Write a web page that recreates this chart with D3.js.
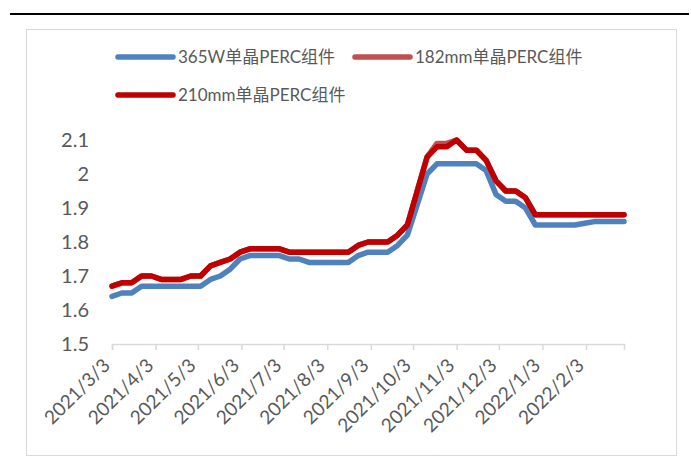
<!DOCTYPE html>
<html>
<head>
<meta charset="utf-8">
<script src="https://cdn.jsdelivr.net/npm/d3@7/dist/d3.min.js"></script>
<style>
  html, body { margin: 0; padding: 0; background: #fff; }
  svg { display: block; }
  text { font-family: Lato, "Noto Sans CJK SC", sans-serif; fill: #595959; }
</style>
</head>
<body>
<svg id="chart" width="691" height="464"></svg>
<script>
// Weekly price dates (Wednesdays)
const dates = [
  "2021-03-03","2021-03-10","2021-03-17","2021-03-24","2021-03-31",
  "2021-04-07","2021-04-14","2021-04-21","2021-04-28","2021-05-05",
  "2021-05-12","2021-05-19","2021-05-26","2021-06-02","2021-06-09",
  "2021-06-16","2021-06-23","2021-06-30","2021-07-07","2021-07-14",
  "2021-07-21","2021-07-28","2021-08-04","2021-08-11","2021-08-18",
  "2021-08-25","2021-09-01","2021-09-08","2021-09-15","2021-09-22",
  "2021-09-29","2021-10-06","2021-10-13","2021-10-20","2021-10-27",
  "2021-11-03","2021-11-10","2021-11-17","2021-11-24","2021-12-01",
  "2021-12-08","2021-12-15","2021-12-22","2021-12-29","2022-01-05",
  "2022-01-12","2022-01-19","2022-01-26","2022-02-02","2022-02-09",
  "2022-02-16","2022-02-23","2022-03-02"
];

// 365W mono PERC module (RMB/W)
const mono365W = [
  1.64,1.65,1.65,1.67,1.67,1.67,1.67,1.67,1.67,1.67,
  1.69,1.70,1.72,1.75,1.76,1.76,1.76,1.76,1.75,1.75,
  1.74,1.74,1.74,1.74,1.74,1.76,1.77,1.77,1.77,1.79,
  1.82,1.91,2.00,2.03,2.03,2.03,2.03,2.03,2.01,1.94,
  1.92,1.92,1.90,1.85,1.85,1.85,1.85,1.85,1.855,1.86,
  1.86,1.86,1.86
];

// 182mm mono PERC module
const mono182 = [
  1.67,1.68,1.68,1.70,1.70,1.69,1.69,1.69,1.70,1.70,
  1.73,1.74,1.75,1.77,1.78,1.78,1.78,1.78,1.77,1.77,
  1.77,1.77,1.77,1.77,1.77,1.79,1.80,1.80,1.80,1.82,
  1.85,1.95,2.05,2.09,2.09,2.10,2.07,2.07,2.04,1.98,
  1.95,1.95,1.93,1.88,1.88,1.88,1.88,1.88,1.88,1.88,
  1.88,1.88,1.88
];

// 210mm mono PERC module
const mono210 = [
  1.67,1.68,1.68,1.70,1.70,1.69,1.69,1.69,1.70,1.70,
  1.73,1.74,1.75,1.77,1.78,1.78,1.78,1.78,1.77,1.77,
  1.77,1.77,1.77,1.77,1.77,1.79,1.80,1.80,1.80,1.82,
  1.85,1.95,2.05,2.08,2.08,2.10,2.07,2.07,2.04,1.98,
  1.95,1.95,1.93,1.88,1.88,1.88,1.88,1.88,1.88,1.88,
  1.88,1.88,1.88
];

const seriesNames = ["365W单晶PERC组件", "182mm单晶PERC组件", "210mm单晶PERC组件"];
const seriesColors = ["#4F81BD", "#C0504D", "#C00000"];

const xTickDates = [
  "2021-03-03","2021-04-03","2021-05-03","2021-06-03","2021-07-03","2021-08-03",
  "2021-09-03","2021-10-03","2021-11-03","2021-12-03","2022-01-03","2022-02-03"
];
const xTickLabels = [
  "2021/3/3","2021/4/3","2021/5/3","2021/6/3","2021/7/3","2021/8/3",
  "2021/9/3","2021/10/3","2021/11/3","2021/12/3","2022/1/3","2022/2/3"
];
const yTicks = [1.5, 1.6, 1.7, 1.8, 1.9, 2, 2.1];

const parse = d3.utcParse("%Y-%m-%d");
const dateVals = dates.map(parse);
const tickVals = xTickDates.map(parse);

const svg = d3.select("#chart");

// page rule and chart frame
svg.append("line")
  .attr("x1", 10).attr("x2", 689).attr("y1", 14).attr("y2", 14)
  .attr("stroke", "#000").attr("stroke-width", 2);
svg.append("rect")
  .attr("x", 26.5).attr("y", 29.5).attr("width", 650).attr("height", 426)
  .attr("fill", "#fff").attr("stroke", "#d9d9d9").attr("stroke-width", 1);

const x = d3.scaleUtc()
  .domain([dateVals[0], dateVals[dateVals.length - 1]])
  .range([112, 624]);
const y = d3.scaleLinear().domain([1.5, 2.1]).range([344, 140]);

// y axis labels (no axis line)
const yAxis = svg.append("g")
  .attr("transform", "translate(112,0)")
  .call(d3.axisLeft(y).tickValues(yTicks).tickSize(0).tickPadding(23)
    .tickFormat(d3.format("")));
yAxis.select(".domain").remove();
yAxis.selectAll("text")
  .style("font-size", "20px").style("font-family", "Lato, sans-serif")
  .attr("fill", "#595959");

// x axis
const xAxis = svg.append("g")
  .attr("transform", "translate(0,344)")
  .call(d3.axisBottom(x).tickValues(tickVals).tickSize(6).tickSizeOuter(6)
    .tickFormat((d, i) => xTickLabels[i]));
xAxis.select(".domain").attr("stroke", "#d9d9d9").attr("stroke-width", 1.5);
xAxis.selectAll(".tick line").attr("stroke", "#d9d9d9").attr("stroke-width", 1.5);
xAxis.selectAll(".tick text")
  .style("font-size", "19px").style("font-family", "Lato, sans-serif")
  .attr("fill", "#595959")
  .attr("text-anchor", "end")
  .attr("dy", "0.35em")
  .attr("transform", "translate(-6,18) rotate(-45)")
  .attr("x", 0).attr("y", 0);

// lines
const allSeries = [mono365W, mono182, mono210];
const line = d3.line()
  .x((d, i) => x(dateVals[i]))
  .y(d => y(d));

allSeries.forEach((vals, k) => {
  svg.append("path")
    .datum(vals)
    .attr("fill", "none")
    .attr("stroke", seriesColors[k])
    .attr("stroke-width", 5.5)
    .attr("stroke-linejoin", "round")
    .attr("stroke-linecap", "round")
    .attr("d", line);
});

// legend
const legendPos = [[118, 57], [355, 57], [118, 95]];
const legend = svg.append("g");
seriesNames.forEach((name, k) => {
  const [lx, ly] = legendPos[k];
  legend.append("line")
    .attr("x1", lx).attr("x2", lx + 55).attr("y1", ly).attr("y2", ly)
    .attr("stroke", seriesColors[k]).attr("stroke-width", 5.5)
    .attr("stroke-linecap", "round");
  legend.append("text")
    .attr("x", lx + 60).attr("y", ly).attr("dy", "0.35em")
    .style("font-size", "17px")
    .text(name);
});
</script>
</body>
</html>
